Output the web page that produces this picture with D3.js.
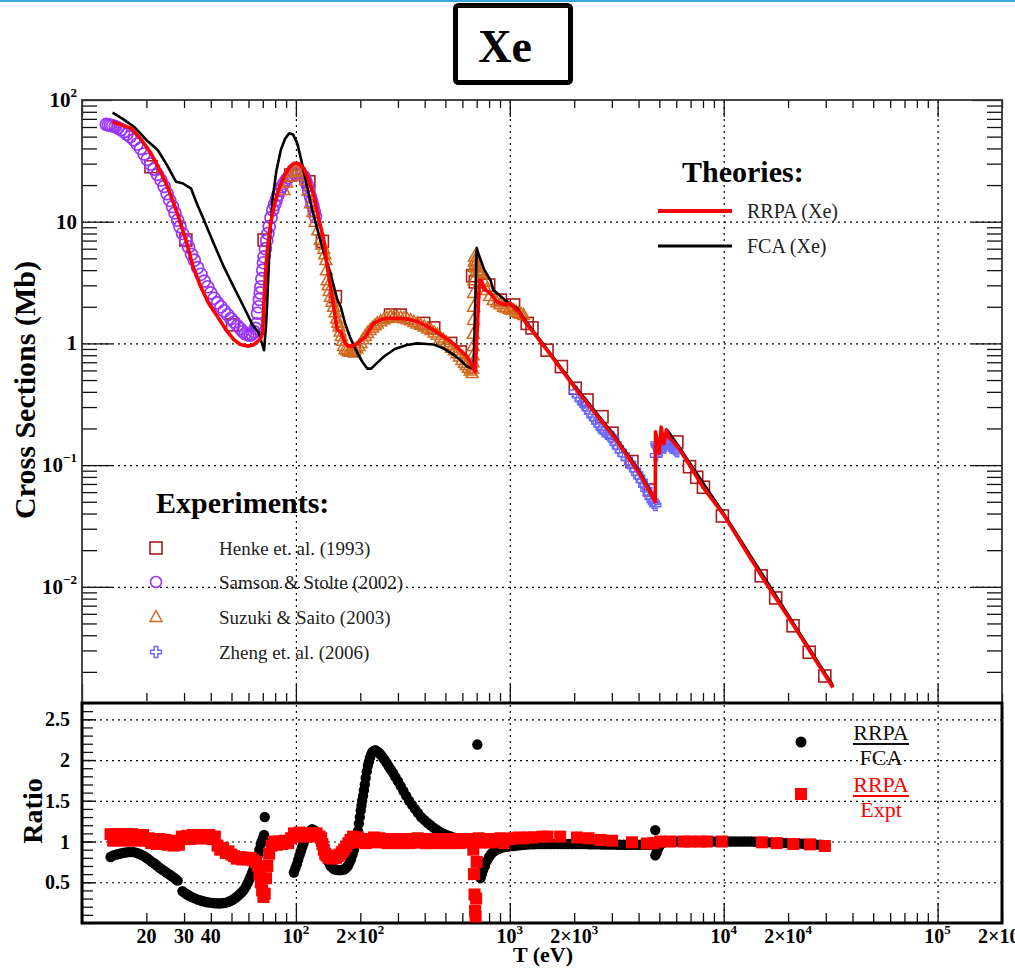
<!DOCTYPE html>
<script src="https://d3js.org/d3.v7.min.js"></script>
<style>
  body { margin: 0; background: #fff; }
  text { font-family: "Liberation Serif", "Times New Roman", serif; }
</style>
<svg></svg>

<script>
    // ---- data: [T (eV), value] ----
    const rrpaXe = [[13.9,66],[15.5,62],[17,58.5],[19,47],[21,36.5],[23,27],[25.1,19.4],[28,11.5],[30.6,7.07],[33,4.3],
        [35.9,2.92],[39,2.15],[43,1.66],[47,1.3],[51.4,1.07],[55,0.98],[59.4,0.95],[63,0.97],[66,1.03],[68.5,1.1],[69.9,1.22],
        [71,2.27],[72,3.6],[73.5,5.85],[76,9.5],[79,13.3],[83,18.5],[88,23.5],[93,28],[97.8,30.2],[103,30],[109,27.5],[115,22],
        [121.7,16],[128,10.5],[135,7.07],[140,4.27],[148.6,2.27],[156,1.29],[162,1.25],[170,1.0],[176,0.95],[183,0.95],[194,1.0],
        [211,1.13],[231,1.46],[250,1.57],[267,1.61],[307,1.61],[340,1.57],[369,1.51],[405,1.4],[441,1.29],[485,1.15],[529,1.04],
        [580,0.9],[632,0.78],[689,0.59],[722,3.32],[730,3.3],[770,2.75],[808,2.6],[869,2.2],[955,2.07],[1000,2.15],[1040,2.0],
        [1110,1.78],[1161,1.56],[1493,0.88],[2000,0.44],[3000,0.18],[4000,0.088],[4786,0.05],[4800,0.188],[5000,0.126],
        [5100,0.205],[5250,0.15],[5400,0.195],[5550,0.17],[6120,0.14],[7000,0.097],[8000,0.066],[10000,0.039],[15000,0.0123],
        [21100,0.0049],[32400,0.00149]];
    const fcaXe = [[13.9,78.7],[15.5,70],[17.5,60.3],[20,47],[22.6,38.8],[25,29],[27.5,21.3],[29.5,20.7],[32.3,18.8],[34.5,14],
        [37.2,10.3],[41,6.8],[46,4.27],[51,2.95],[57,2.0],[62.7,1.42],[67,1.22],[71,0.88],[72.5,1.4],[73.5,2.27],[75.5,7],
        [77.7,15.1],[81,26],[85,38.8],[89,48],[93,53.2],[97,52],[101.5,44],[106,32],[111,22],[118,13.5],[125,9.1],[135,5.6],
        [145,3.77],[156,2.3],[162,2.0],[170,1.45],[180,1.1],[194,0.83],[205,0.7],[216,0.62],[224,0.62],[231,0.65],[258,0.78],
        [290,0.9],[330,0.97],[369,1.0],[410,0.99],[441,0.98],[490,0.91],[540,0.82],[587,0.73],[631,0.645],[677,0.62],[700,6.1],
        [720,5.2],[761,4.0],[813,3.3],[837,2.75],[904,2.45],[1000,2.1],[1080,1.95],[1161,1.62],[1493,0.9],[2000,0.455],
        [3000,0.186],[4000,0.091],[4786,0.052],[4800,0.17],[5000,0.15],[5500,0.19],[6120,0.145],[10000,0.04],[32400,0.00155]];
    const henke = [[21,28.3],[30.6,7.07],[50.6,1.42],[71,7.07],[94.6,24.2],[115,21.3],[133,6.9],[153,2.42],[187,0.87],[277,1.71],
        [307,1.71],[396,1.46],[441,1.34],[529,1.0],[587,0.85],[670,3.6],[690,3.2],[797,3.02],[904,2.27],[1042,2.07],[1206,1.46],
        [1270,1.34],[1493,0.88],[1742,0.645],[2023,0.428],[2296,0.343],[2698,0.25],[3005,0.183],[3725,0.107],[4530,0.0624],
        [6040,0.155],[6920,0.097],[7480,0.0794],[8040,0.0658],[9860,0.0382],[14970,0.0123],[17500,0.0081],[21100,0.00478],
        [25100,0.0029],[29700,0.00185]];
    const samson = [[13,63],[13.3,62.5],[13.6,62],[13.9,61.3],[14.3,60.5],[14.7,59],[15.2,57],[15.7,55],[16.2,52.5],[16.8,50],
        [17.5,47],[18.1,43.5],[18.8,40],[19.5,36],[20.2,32.5],[20.9,29.8],[21.7,27],[22.5,24.5],[23.4,22],[24.2,19.5],[25,17],
        [25.7,15],[26.5,13.3],[27.2,11.8],[28,10.3],[28.7,9.1],[29.5,8.0],[30.5,7.0],[31.5,6.2],[32.5,5.4],[33.5,4.84],[34.7,4.2],
        [36,3.7],[37.3,3.25],[38.7,2.92],[40,2.6],[41.5,2.35],[43,2.15],[44.6,2.0],[46.2,1.85],[48,1.72],[49.7,1.6],[51.4,1.5],
        [53.2,1.4],[55,1.32],[56.5,1.25],[58,1.2],[59.5,1.18],[61,1.17],[62.4,1.19],[63.7,1.25],[64.7,1.33],[65.5,1.45],
        [66.2,1.77],[66.9,2.0],[67.5,2.3],[68.1,2.6],[68.6,2.92],[69.3,3.4],[70,4.0],[70.5,4.6],[71,5.15],[72,6.0],[73,7.0],
        [74,8.0],[75,9.1],[76.5,10.8],[78,12.5],[79.5,13.8],[80.9,15.1],[82.4,16.6],[84,18],[86,19.4],[88,20.7],[90,22],[92,23],
        [95,24.2],[97.8,25],[100.5,25.2],[103,25],[106,24.5],[109,23.5],[111,21.8],[113,20],[115,18],[117,16],[118.5,14.7],
        [120,13.5],[121.8,12.2],[123.5,11]];
    const suzuki = [[88,18.2],[90.5,21],[93,23.5],[96,25.5],[99.6,26.5],[102,26.5],[105,25.8],[108,24],[111,22],[114,18],[117,14.2],
        [120,12],[123,10],[126.5,8.5],[130,7.07],[132,6.5],[135,6.0],[136.5,5.4],[138,4.84],[139,4.0],[140,3.3],[141.5,3.0],
        [143,2.7],[145,2.42],[147.5,2.2],[150,2.0],[152.5,1.8],[155,1.6],[157,1.48],[159,1.38],[161,1.25],[163,1.15],[165,1.05],
        [167,0.95],[170,0.9],[173,0.88],[176.5,0.86],[180,0.86],[184,0.87],[188,0.88],[192.5,0.91],[197,0.95],[201.5,1.01],
        [206,1.08],[211,1.15],[216,1.22],[222,1.29],[228,1.35],[234,1.41],[240,1.46],[249,1.52],[258,1.58],[267,1.62],[277,1.66],
        [287,1.66],[298,1.64],[309,1.63],[320,1.61],[332,1.58],[344,1.55],[356,1.5],[369,1.46],[383,1.42],[398,1.38],[413,1.33],
        [428,1.29],[443,1.23],[458,1.18],[474,1.12],[490,1.07],[505,1.02],[520,0.97],[535,0.92],[551,0.88],[566,0.83],[582,0.78],
        [597,0.73],[613,0.69],[626,0.66],[640,0.63],[653,0.6],[667,0.57],[670,0.62],[672,0.7],[673,0.8],[674,0.95],[675,1.2],
        [676,1.56],[677,2.0],[678,2.6],[679.5,3.3],[681,4.27],[682.5,4.7],[684,5.15],[687,4.8],[690,4.5],[695,4.2],[700,4.0],
        [710,3.9],[725,3.85],[740,3.77],[758,3.2],[778,2.75],[805,2.45],[837,2.27],[870,2.18],[900,2.1],[935,2.0],[960,1.97],
        [990,1.93],[1015,1.9],[1040,1.88],[1070,1.82],[1100,1.78],[1130,1.75],[1160,1.71]];
    const zheng = [[2020,0.4],[2080,0.37],[2140,0.345],[2200,0.325],[2250,0.31],[2310,0.29],[2370,0.27],[2430,0.255],[2500,0.24],
        [2560,0.225],[2620,0.213],[2690,0.2],[2750,0.19],[2820,0.186],[2900,0.18],[2970,0.17],[3050,0.162],[3120,0.15],[3200,0.14],
        [3300,0.13],[3400,0.122],[3520,0.112],[3650,0.104],[3750,0.097],[3850,0.091],[3940,0.085],[4030,0.08],[4140,0.074],
        [4250,0.068],[4350,0.063],[4450,0.058],[4550,0.054],[4650,0.051],[4720,0.049],[4786,0.047],[4820,0.12],[4850,0.15],
        [4900,0.145],[4950,0.14],[5000,0.135],[5050,0.13],[5090,0.145],[5130,0.16],[5190,0.15],[5250,0.14],[5300,0.145],
        [5350,0.15],[5390,0.155],[5430,0.16],[5500,0.155],[5570,0.15],[5640,0.145],[5700,0.14],[5790,0.139],[5880,0.138],
        [5960,0.134],[6050,0.13]];
    const ratioFca = [[13.6,0.81],[14,0.83],[14.5,0.84],[15,0.85],[15.5,0.86],[16,0.865],[16.5,0.87],[17,0.87],[17.5,0.87],[18,0.86],
        [18.5,0.85],[19,0.835],[19.5,0.82],[20,0.8],[20.5,0.78],[21.1,0.755],[21.8,0.73],[22.4,0.705],[23,0.68],[23.6,0.66],
        [24.2,0.64],[24.8,0.62],[25.5,0.6],[26.1,0.58],[26.8,0.56],[27.4,0.54],[28,0.52],[29.5,0.39],[30.2,0.37],[31,0.35],
        [31.7,0.335],[32.5,0.32],[33.5,0.305],[34.5,0.29],[35.5,0.28],[36.5,0.27],[37.5,0.262],[38.5,0.255],[39.7,0.25],[41,0.245],
        [42.2,0.242],[43.5,0.24],[44.7,0.242],[46,0.245],[47.2,0.25],[48.5,0.26],[49.7,0.275],[51,0.29],[52.2,0.31],[53.5,0.33],
        [54.7,0.355],[56,0.38],[57.2,0.41],[58.5,0.45],[59.5,0.49],[60.5,0.53],[61.5,0.575],[62.5,0.62],[63.5,0.67],[64.5,0.72],
        [65.5,0.775],[66.5,0.83],[67.5,0.9],[68.5,0.97],[69.3,1.0],[70,1.03],[70.5,1.05],[71,1.08],[71.5,1.3],
        [97.8,0.62],[99.4,0.67],[101,0.72],[102.5,0.775],[104,0.83],[105.5,0.88],[107,0.93],[108.5,0.975],[110,1.02],[112,1.06],
        [114,1.1],[116.5,1.13],[119,1.15],[121.5,1.14],[124,1.12],[126.5,1.07],[129,1.02],[131.5,0.97],[134,0.92],[136.5,0.86],
        [139,0.8],[142,0.75],[145,0.7],[148,0.68],[151,0.66],[154,0.655],[157,0.65],[160,0.65],[163,0.65],[166,0.655],[169,0.66],
        [172,0.68],[175,0.7],[178,0.74],[181,0.78],[184,0.84],[187,0.9],[190,0.97],[193,1.05],[195,1.13],[197,1.22],[199,1.3],
        [201,1.38],[202.5,1.44],[204,1.5],[206,1.56],[208,1.63],[210,1.7],[212,1.78],[214.5,1.86],[217,1.93],[219.5,1.98],
        [222,2.03],[225,2.07],[228,2.1],[231.5,2.11],[235,2.12],[238.5,2.11],[242,2.1],[246,2.08],[250,2.06],[255,2.03],[260,2.0],
        [266,1.96],[272,1.92],[278,1.88],[285,1.84],[292,1.79],[300,1.74],[309,1.68],[318,1.62],[328,1.56],[338,1.5],[349,1.45],
        [360,1.4],[372,1.35],[385,1.3],[398,1.265],[412,1.23],[426,1.2],[440,1.17],[455,1.145],[470,1.12],[487,1.1],[505,1.08],
        [525,1.065],[545,1.05],[567,1.035],[590,1.02],[615,1.01],[640,1.0],[665,0.985],[690,0.97],[705,2.19],[730,0.55],[740,0.6],
        [750,0.65],[765,0.7],[780,0.76],[800,0.81],[820,0.85],[845,0.88],[870,0.9],[900,0.915],[930,0.93],[965,0.935],[1000,0.94],
        [1040,0.945],[1080,0.95],[1120,0.955],[1160,0.96],[1200,0.962],[1250,0.965],[1300,0.967],[1350,0.97],[1400,0.97],
        [1450,0.97],[1500,0.97],[1560,0.97],[1620,0.97],[1680,0.97],[1750,0.97],[1810,0.97],[1880,0.97],[1950,0.97],[2020,0.97],
        [2100,0.97],[2180,0.968],[2260,0.968],[2350,0.966],[2430,0.965],[2520,0.965],[2620,0.965],[2720,0.964],[2820,0.963],
        [2930,0.962],[3040,0.962],[3150,0.961],[3270,0.96],[3400,0.96],[3520,0.96],[3650,0.96],[3790,0.96],[3930,0.96],
        [4080,0.96],[4240,0.96],[4400,0.96],[4520,0.96],[4650,0.96],[4786,1.14],[4790,0.83],[4850,0.86],[4900,0.9],[4970,0.93],
        [5050,0.96],[5150,0.98],[5250,0.99],[5370,1.0],[5500,1.0],[5700,1.0],[5900,1.0],[6100,1.0],[6350,1.0],[6600,1.0],
        [6850,1.0],[7100,1.0],[7400,1.0],[7700,1.0],[8000,1.0],[8300,1.0],[8600,1.0],[8950,1.0],[9300,1.0],[9650,1.0],[10000,1.0],
        [10400,1.0],[10800,1.0],[11200,1.0],[11600,1.0],[12050,1.0],[12500,1.0],[13000,1.0],[13500,1.0],[14000,0.998],
        [14500,0.995],[15050,0.993],[15600,0.99],[16200,0.99],[16800,0.99],[17450,0.987],[18100,0.985],[18800,0.983],[19500,0.98],
        [20250,0.98],[21000,0.98],[21800,0.977],[22600,0.975],[23500,0.972],[24400,0.97],[25350,0.967],[26300,0.965],
        [27300,0.962],[28300,0.96],[29200,0.957],[30000,0.955]];
    const ratioExpt = [[13.6,1.09],[14,1.01],[14.4,1.09],[14.8,1.02],[15.3,1.09],[15.7,1.01],[16.2,1.09],[16.7,1.02],[17.2,1.09],
        [17.7,1.01],[18.2,1.08],[18.8,1.02],[19.3,1.08],[19.9,1.01],[20.5,1.04],[21.1,0.98],[21.8,1.03],[22.4,0.97],[23.1,1.03],
        [23.8,0.97],[24.5,1.02],[25.2,0.96],[26,1.01],[26.8,0.95],[27.6,1.0],[28.4,0.96],[29.3,1.06],[30.2,1.03],[31.1,1.07],
        [32,1.03],[33,1.08],[34,1.04],[35,1.08],[36,1.04],[37.1,1.08],[38.2,1.04],[39.4,1.08],[40.6,1.03],[41.8,1.06],[43,0.95],
        [44.3,0.9],[45.6,0.92],[47,0.86],[48.4,0.88],[49.9,0.84],[51.4,0.82],[52.9,0.79],[54.5,0.81],[56.1,0.78],[57.8,0.8],
        [59.6,0.78],[61.4,0.8],[63.2,0.77],[65.1,0.75],[66.5,0.7],[67.5,0.6],[68.5,0.5],[69.5,0.4],[70.5,0.32],[71.5,0.36],
        [72.5,0.55],[73.5,0.7],[75,0.85],[77,0.95],[79,1.0],[81.5,0.96],[84,1.0],[86.5,0.97],[89,1.01],[92,0.98],[95,1.04],
        [98,1.1],[101,1.06],[104,1.11],[107,1.07],[110,1.1],[113,1.06],[117,1.1],[121,1.07],[125,1.1],[129,1.06],[131,1.04],
        [133,0.97],[135,0.9],[137,0.85],[139,0.83],[142,0.8],[145,0.82],[148,0.79],[151,0.81],[154,0.8],[157,0.82],[160,0.84],
        [164,0.87],[168,0.9],[172,0.94],[176,0.98],[180,1.02],[185,1.06],[190,1.02],[195,1.05],[200,0.99],[206,1.03],[212,0.98],
        [218,1.03],[225,0.99],[232,1.05],[239,1.0],[246,1.04],[253,0.99],[260,1.03],[268,0.98],[276,1.03],[284,0.99],[293,1.03],
        [302,0.98],[311,1.03],[320,0.99],[330,1.03],[340,0.98],[350,1.03],[360,0.99],[371,1.04],[382,0.99],[394,1.03],[406,0.98],
        [418,1.03],[430,0.99],[443,1.03],[456,0.98],[470,1.03],[484,0.99],[499,1.03],[514,0.98],[529,1.03],[545,0.99],[561,1.03],
        [578,0.98],[595,1.03],[613,0.99],[631,1.03],[650,0.99],[665,1.03],[675,0.9],[680,0.6],[684,0.35],[688,0.15],[692,0.08],
        [696,0.3],[700,0.75],[705,1.0],[715,1.04],[730,0.99],[745,1.03],[760,0.99],[780,1.03],[800,0.99],[820,1.03],[840,1.0],
        [860,1.03],[880,1.0],[905,1.04],[937,0.98],[1000,1.03],[1040,1.04],[1100,1.05],[1160,1.04],[1230,1.05],[1290,1.05],
        [1420,1.06],[1500,1.06],[1720,1.06],[2060,1.05],[2335,1.04],[2650,1.02],[3005,1.01],[3725,0.99],[4375,0.976],[4700,0.98],
        [5050,1.0],[5620,1.0],[6490,1.0],[6970,1.0],[7760,1.0],[8340,1.0],[9800,1.0],[15070,0.99],[17700,0.98],[21150,0.97],
        [25300,0.965],[29700,0.945]];

    // ---- tick labels ----
    const xTickVals = [20, 30, 40, 100, 200, 1000, 2000, 1e4, 2e4, 1e5, 2e5];
    const xTickBase = ["20", "30", "40", "10", "2\u00d710", "10", "2\u00d710", "10", "2\u00d710", "10", "2\u00d710"];
    const xTickExp = ["", "", "", "2", "2", "3", "3", "4", "4", "5", "5"];
    const yTickVals = [0.01, 0.1, 1, 10, 100];
    const yTickBase = ["10", "10", "1", "10", "10"];
    const yTickExp = ["\u22122", "\u22121", "", "", "2"];
    const ratioTickVals = [0.5, 1, 1.5, 2, 2.5];
    const expLabels = ["Henke et. al. (1993)", "Samson & Stolte (2002)", "Suzuki & Saito (2003)", "Zheng et. al. (2006)"];
    const theoryLabels = ["RRPA (Xe)", "FCA (Xe)"];

    const width = 1015, height = 969;
    const pL = 82, pR = 1002, pT = 100, pM = 703, pB = 923;

    const svg = d3.select("svg").attr("width", width).attr("height", height);

    const x = d3.scaleLog().domain([10, 2e5]).range([pL, pR]);
    const y = d3.scaleLog().domain([0.00111, 100]).range([pM, pT]);
    const yr = d3.scaleLinear().domain([0, 2.7]).range([pB, pM]);

    // top accent line and title box
    svg.append("line").attr("x1", 0).attr("x2", width).attr("y1", 1).attr("y2", 1)
        .attr("stroke", "#3aa8e0").attr("stroke-width", 2);
    svg.append("rect").attr("x", 455.5).attr("y", 5.5).attr("width", 115).attr("height", 77).attr("rx", 3)
        .attr("fill", "none").attr("stroke", "#000").attr("stroke-width", 5);
    svg.append("text").attr("x", 505).attr("y", 62).attr("text-anchor", "middle")
        .attr("font-size", 46).attr("font-weight", "bold").text("Xe");

    const defs = svg.append("defs");
    defs.append("clipPath").attr("id", "clipTop").append("rect")
        .attr("x", pL).attr("y", pT).attr("width", pR - pL).attr("height", pM - pT);
    defs.append("clipPath").attr("id", "clipLow").append("rect")
        .attr("x", pL).attr("y", pM).attr("width", pR - pL).attr("height", pB - pM);

    const isDecade = v => Math.abs(Math.log10(v) - Math.round(Math.log10(v))) < 1e-9;
    const decades = x.ticks().filter(isDecade);
    const xMinor = x.ticks().filter(v => !isDecade(v));
    const yDec = y.ticks().filter(isDecade);
    const yMinor = y.ticks().filter(v => !isDecade(v));

    function tidy(g) {
        g.select(".domain").remove();
        g.selectAll(".tick line").attr("stroke", "#111").attr("stroke-width", 1.3);
    }
    function gridStyle(g) {
        g.select(".domain").remove();
        g.selectAll(".tick line").attr("stroke", "#000").attr("stroke-width", 1.2).attr("stroke-dasharray", "2,4");
    }

    // ---- grids ----
    svg.append("g").attr("transform", `translate(0,${pM})`)
        .call(d3.axisTop(x).tickValues(decades.filter(v => v > 10)).tickSize(pM - pT).tickFormat("")).call(gridStyle);
    svg.append("g").attr("transform", `translate(${pL},0)`)
        .call(d3.axisRight(y).tickValues(yDec.filter(v => v < 100)).tickSize(pR - pL).tickFormat("")).call(gridStyle);
    svg.append("g").attr("transform", `translate(0,${pB})`)
        .call(d3.axisTop(x).tickValues(decades.filter(v => v > 10)).tickSize(pB - pM).tickFormat("")).call(gridStyle);
    svg.append("g").attr("transform", `translate(${pL},0)`)
        .call(d3.axisRight(yr).tickValues(ratioTickVals).tickSize(pR - pL).tickFormat("")).call(gridStyle);

    // ---- top panel ticks ----
    svg.append("g").attr("transform", `translate(${pL},0)`).call(d3.axisRight(y).tickValues(yMinor).tickSize(15).tickFormat("")).call(tidy);
    svg.append("g").attr("transform", `translate(${pL},0)`).call(d3.axisRight(y).tickValues(yDec).tickSize(30).tickFormat("")).call(tidy);
    svg.append("g").attr("transform", `translate(${pR},0)`).call(d3.axisLeft(y).tickValues(yMinor).tickSize(15).tickFormat("")).call(tidy);
    svg.append("g").attr("transform", `translate(${pR},0)`).call(d3.axisLeft(y).tickValues(yDec).tickSize(30).tickFormat("")).call(tidy);
    svg.append("g").attr("transform", `translate(0,${pT})`).call(d3.axisBottom(x).tickValues(xMinor).tickSize(8).tickFormat("")).call(tidy);
    svg.append("g").attr("transform", `translate(0,${pT})`).call(d3.axisBottom(x).tickValues(decades).tickSize(17).tickFormat("")).call(tidy);
    svg.append("g").attr("transform", `translate(0,${pM - 2})`).call(d3.axisTop(x).tickValues(xMinor).tickSize(8).tickFormat("")).call(tidy);
    svg.append("g").attr("transform", `translate(0,${pM - 2})`).call(d3.axisTop(x).tickValues(decades).tickSize(17).tickFormat("")).call(tidy);

    // ---- lower panel ticks ----
    svg.append("g").attr("transform", `translate(${pL},0)`)
        .call(d3.axisRight(yr).ticks(27).tickSize(11).tickFormat("")).call(tidy);
    svg.append("g").attr("transform", `translate(${pL},0)`)
        .call(d3.axisRight(yr).tickValues(ratioTickVals).tickSize(14).tickFormat("")).call(tidy);
    svg.append("g").attr("transform", `translate(0,${pB})`)
        .call(d3.axisTop(x).tickValues(xMinor).tickSize(10).tickFormat("")).call(tidy);
    svg.append("g").attr("transform", `translate(0,${pB})`)
        .call(d3.axisTop(x).tickValues(decades).tickSize(20).tickFormat("")).call(tidy);

    // ---- frames ----
    svg.append("rect").attr("x", pL).attr("y", pT).attr("width", pR - pL).attr("height", pM - pT)
        .attr("fill", "none").attr("stroke", "#333").attr("stroke-width", 1.8);
    svg.append("rect").attr("x", pL).attr("y", pM).attr("width", pR - pL).attr("height", pB - pM)
        .attr("fill", "none").attr("stroke", "#000").attr("stroke-width", 3);

    // ---- tick labels ----
    const xl = svg.append("g").attr("font-weight", "bold").attr("font-size", 20).attr("text-anchor", "middle");
    xTickVals.forEach((v, i) => {
        const t = xl.append("text").attr("x", x(v)).attr("y", 943);
        t.append("tspan").text(xTickBase[i]);
        if (xTickExp[i]) t.append("tspan").attr("font-size", 13).attr("dy", -9).text(xTickExp[i]);
    });
    const yl = svg.append("g").attr("font-weight", "bold").attr("font-size", 21).attr("text-anchor", "end");
    yTickVals.forEach((v, i) => {
        const t = yl.append("text").attr("x", 77).attr("y", y(v) + 7);
        t.append("tspan").text(yTickBase[i]);
        if (yTickExp[i]) t.append("tspan").attr("font-size", 13).attr("dy", -10).text(yTickExp[i]);
    });
    svg.append("g").attr("font-weight", "bold").attr("font-size", 20).attr("text-anchor", "end")
        .selectAll("text").data(ratioTickVals).join("text")
        .attr("x", 70).attr("y", d => yr(d) + 7).text(d => d);

    // axis titles
    svg.append("text").attr("transform", "translate(35,390) rotate(-90)").attr("text-anchor", "middle")
        .attr("font-size", 30).attr("font-weight", "bold").text("Cross Sections (Mb)");
    svg.append("text").attr("transform", "translate(42,811) rotate(-90)").attr("text-anchor", "middle")
        .attr("font-size", 28).attr("font-weight", "bold").text("Ratio");
    svg.append("text").attr("x", 543).attr("y", 962).attr("text-anchor", "middle")
        .attr("font-size", 22).attr("font-weight", "bold").text("T (eV)");

    // ---- markers ----
    const triPath = "M0,-6.5L6,4.5L-6,4.5Z";
    const crossPath = "M-1.8,-5.5H1.8V-1.8H5.5V1.8H1.8V5.5H-1.8V1.8H-5.5V-1.8H-1.8Z";
    const colHenke = "#a81c1c", colSamson = "#9933ff", colSuzuki = "#d2691e", colZheng = "#6a6aff";

    const topG = svg.append("g").attr("clip-path", "url(#clipTop)");
    topG.append("g").selectAll("rect").data(henke).join("rect")
        .attr("x", d => x(d[0]) - 6).attr("y", d => y(d[1]) - 6).attr("width", 12).attr("height", 12)
        .attr("fill", "none").attr("stroke", colHenke).attr("stroke-width", 1.6);
    topG.append("g").selectAll("circle").data(samson).join("circle")
        .attr("cx", d => x(d[0])).attr("cy", d => y(d[1])).attr("r", 6)
        .attr("fill", "none").attr("stroke", colSamson).attr("stroke-width", 1.7);
    topG.append("g").selectAll("path").data(suzuki).join("path")
        .attr("transform", d => `translate(${x(d[0])},${y(d[1])})`).attr("d", triPath)
        .attr("fill", "none").attr("stroke", colSuzuki).attr("stroke-width", 1.5);
    topG.append("g").selectAll("path").data(zheng).join("path")
        .attr("transform", d => `translate(${x(d[0])},${y(d[1])})`).attr("d", crossPath)
        .attr("fill", "none").attr("stroke", colZheng).attr("stroke-width", 1.4);

    const line = d3.line().x(d => x(d[0])).y(d => y(d[1]));
    topG.append("path").datum(fcaXe).attr("d", line).attr("fill", "none")
        .attr("stroke", "#000").attr("stroke-width", 2.6).attr("stroke-linejoin", "round");
    topG.append("path").datum(rrpaXe).attr("d", line).attr("fill", "none")
        .attr("stroke", "#ff0000").attr("stroke-width", 3.6).attr("stroke-linejoin", "round");

    // ---- ratio panel ----
    const lowG = svg.append("g").attr("clip-path", "url(#clipLow)");
    lowG.append("g").selectAll("circle").data(ratioFca).join("circle")
        .attr("cx", d => x(d[0])).attr("cy", d => yr(d[1])).attr("r", 5.2).attr("fill", "#000");
    lowG.append("g").selectAll("rect").data(ratioExpt).join("rect")
        .attr("x", d => x(d[0]) - 6).attr("y", d => yr(d[1]) - 6).attr("width", 12).attr("height", 12).attr("fill", "#ff0000");

    // ---- legends ----
    svg.append("text").attr("x", 682).attr("y", 182).attr("font-size", 30).attr("font-weight", "bold").text("Theories:");
    svg.append("line").attr("x1", 658).attr("x2", 732).attr("y1", 211).attr("y2", 211).attr("stroke", "#ff0000").attr("stroke-width", 4);
    svg.append("line").attr("x1", 658).attr("x2", 732).attr("y1", 246).attr("y2", 246).attr("stroke", "#000").attr("stroke-width", 3);
    svg.append("g").attr("font-size", 20).attr("fill", "#222").selectAll("text").data(theoryLabels).join("text")
        .attr("x", 747).attr("y", (d, i) => 218 + i * 35).text(d => d);

    svg.append("text").attr("x", 156).attr("y", 513).attr("font-size", 30).attr("font-weight", "bold").text("Experiments:");
    const ly = [548, 582, 617, 652];
    svg.append("rect").attr("x", 150).attr("y", ly[0] - 6).attr("width", 12).attr("height", 12)
        .attr("fill", "none").attr("stroke", colHenke).attr("stroke-width", 1.6);
    svg.append("circle").attr("cx", 156).attr("cy", ly[1]).attr("r", 5.5)
        .attr("fill", "none").attr("stroke", colSamson).attr("stroke-width", 1.6);
    svg.append("path").attr("transform", `translate(156,${ly[2]})`).attr("d", triPath)
        .attr("fill", "none").attr("stroke", colSuzuki).attr("stroke-width", 1.5);
    svg.append("path").attr("transform", `translate(156,${ly[3]})`).attr("d", crossPath)
        .attr("fill", "none").attr("stroke", colZheng).attr("stroke-width", 1.4);
    svg.append("g").attr("font-size", 19).attr("fill", "#222").selectAll("text").data(expLabels).join("text")
        .attr("x", 219).attr("y", (d, i) => ly[i] + 7).text(d => d);

    // ratio legend
    svg.append("circle").attr("cx", 801).attr("cy", 742).attr("r", 5.5).attr("fill", "#000");
    svg.append("rect").attr("x", 795).attr("y", 788).attr("width", 12).attr("height", 12).attr("fill", "#ff0000");
    const frac = [["RRPA", "FCA", "#111", 740], ["RRPA", "Expt", "#ff0000", 792]];
    frac.forEach(([num, den, c, yb]) => {
        svg.append("text").attr("x", 881).attr("y", yb).attr("text-anchor", "middle").attr("font-size", 22).attr("fill", c).text(num);
        svg.append("line").attr("x1", 853).attr("x2", 909).attr("y1", yb + 4).attr("y2", yb + 4).attr("stroke", c).attr("stroke-width", 2);
        svg.append("text").attr("x", 881).attr("y", yb + 25).attr("text-anchor", "middle").attr("font-size", 22).attr("fill", c).text(den);
    });
</script>
